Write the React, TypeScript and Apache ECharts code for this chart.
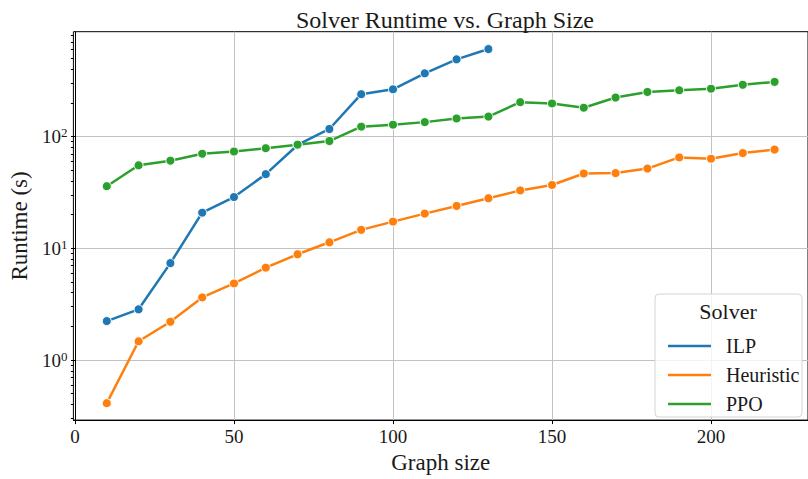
import React, { useEffect, useRef } from "react";
import * as echarts from "echarts";

const graphSizes = [10, 20, 30, 40, 50, 60, 70, 80, 90, 100, 110, 120, 130, 140, 150, 160, 170, 180, 190, 200, 210, 220];
const ilpRuntime = [2.23, 2.84, 7.36, 20.8, 28.7, 46, 83.9, 116.6, 238.8, 264, 367, 489.5, 605];
const heuristicRuntime = [0.411, 1.47, 2.2, 3.63, 4.84, 6.7, 8.83, 11.3, 14.6, 17.3, 20.4, 23.9, 28, 32.9, 36.8, 46.6, 47, 51.6, 64.9, 63.2, 71, 76.3];
const ppoRuntime = [35.9, 55.2, 60.7, 70, 73.3, 78.5, 84.4, 91, 122.4, 127.4, 134.3, 144.8, 150.6, 202.6, 197.2, 180.7, 222.8, 250, 258.8, 267.3, 289.9, 307.6];
const solverNames = ["ILP", "Heuristic", "PPO"];
const solverColors = ["#1f77b4", "#ff7f0e", "#2ca02c"];
const xTicks = [0, 50, 100, 150, 200];
const yMajorTicks = [1, 10, 100];
const yMinorTicks = [0.3, 0.4, 0.5, 0.6, 0.7, 0.8, 0.9, 2, 3, 4, 5, 6, 7, 8, 9, 20, 30, 40, 50, 60, 70, 80, 90, 200, 300, 400, 500, 600, 700, 800];

const FONT = "Liberation Serif";
const INK = "#1a1a1a";

export default function App() {
  const ref = useRef<HTMLDivElement>(null);
  useEffect(() => {
    if (!ref.current) return;
    const chart = echarts.init(ref.current, null, { renderer: "svg" });
    const zip = (vals: number[]) => vals.map((v, i) => [graphSizes[i], v]);
    const seriesData = [ilpRuntime, heuristicRuntime, ppoRuntime];
    const yMin = 0.29;
    const yMax = 865;
    chart.setOption({
      animation: false,
      backgroundColor: "#ffffff",
      textStyle: { fontFamily: FONT, color: INK },
      title: {
        text: "Solver Runtime vs. Graph Size",
        left: 440,
        textAlign: "center",
        top: 3,
        textStyle: { fontFamily: FONT, fontSize: 24, fontWeight: "normal", color: INK },
      },
      grid: {
        left: 70,
        right: -3,
        top: 31.7,
        bottom: 52,
        show: true,
        borderColor: "#000",
        borderWidth: 1,
        backgroundColor: "transparent",
      },
      xAxis: {
        type: "value",
        min: -0.5,
        max: 230.5,
        name: "Graph size",
        nameLocation: "middle",
        nameGap: 27,
        nameTextStyle: { fontFamily: FONT, fontSize: 23, color: INK, verticalAlign: "top" },
        axisLine: { show: true, lineStyle: { color: "#000", width: 1 } },
        axisTick: { show: true, customValues: xTicks, length: 4, lineStyle: { color: "#000" } },
        axisLabel: { customValues: xTicks, margin: 7, fontFamily: FONT, fontSize: 19, color: INK, showMinLabel: true },
        splitLine: { show: true, lineStyle: { color: "#c2c2c2", width: 1 } },
      },
      yAxis: [
        {
          type: "log",
          logBase: 10,
          min: yMin,
          max: yMax,
          name: "Runtime (s)",
          nameLocation: "middle",
          nameRotate: 90,
          nameGap: 38,
          nameTextStyle: { fontFamily: FONT, fontSize: 23, color: INK },
          axisLine: { show: true, lineStyle: { color: "#000", width: 1 } },
          axisTick: { show: true, customValues: yMajorTicks, length: 4, lineStyle: { color: "#000" } },
          axisLabel: {
            customValues: yMajorTicks,
            margin: 6,
            formatter: (v: number) => `{b|10}{s|${Math.round(Math.log10(v))}}`,
            rich: {
              b: { fontFamily: FONT, fontSize: 19, color: INK, verticalAlign: "bottom", lineHeight: 20 },
              s: { fontFamily: FONT, fontSize: 13, color: INK, verticalAlign: "top", lineHeight: 14 },
            },
          },
          splitLine: { show: true, lineStyle: { color: "#c2c2c2", width: 1 } },
        },
        {
          type: "log",
          logBase: 10,
          min: yMin,
          max: yMax,
          position: "left",
          axisLine: { show: false },
          axisTick: { show: true, customValues: yMinorTicks, length: 2.5, lineStyle: { color: "#000" } },
          axisLabel: { show: false },
          splitLine: { show: false },
        },
      ],
      legend: {
        data: solverNames,
        orient: "vertical",
        left: 663,
        top: 331,
        icon: "rect",
        itemWidth: 43,
        itemHeight: 2.5,
        itemGap: 9,
        z: 10,
        itemStyle: { borderWidth: 0 },
        textStyle: { fontFamily: FONT, fontSize: 20, lineHeight: 20, color: INK, padding: [0, 0, 0, 10] },
      },
      graphic: [
        {
          type: "rect",
          z: 8,
          shape: { x: 655, y: 294, width: 147, height: 123, r: 4 },
          style: { fill: "rgba(255,255,255,0.8)", stroke: "#d4d4d4", lineWidth: 1 },
        },
        {
          type: "text",
          z: 10,
          x: 728,
          y: 311,
          style: { text: "Solver", fontFamily: FONT, fontSize: 22, fill: INK, textAlign: "center", textVerticalAlign: "middle" },
        },
      ],
      series: solverNames.map((name, i) => ({
        name,
        type: "line",
        yAxisIndex: 0,
        data: zip(seriesData[i]),
        symbol: "circle",
        symbolSize: 9,
        showSymbol: true,
        lineStyle: { width: 2.5, color: solverColors[i] },
        itemStyle: { color: solverColors[i], borderColor: "#ffffff", borderWidth: 1 },
        z: 3,
      })),
    });
    return () => chart.dispose();
  }, []);
  return <div ref={ref} style={{ width: 808, height: 479, position: "absolute", left: 0, top: 0 }} />;
}
